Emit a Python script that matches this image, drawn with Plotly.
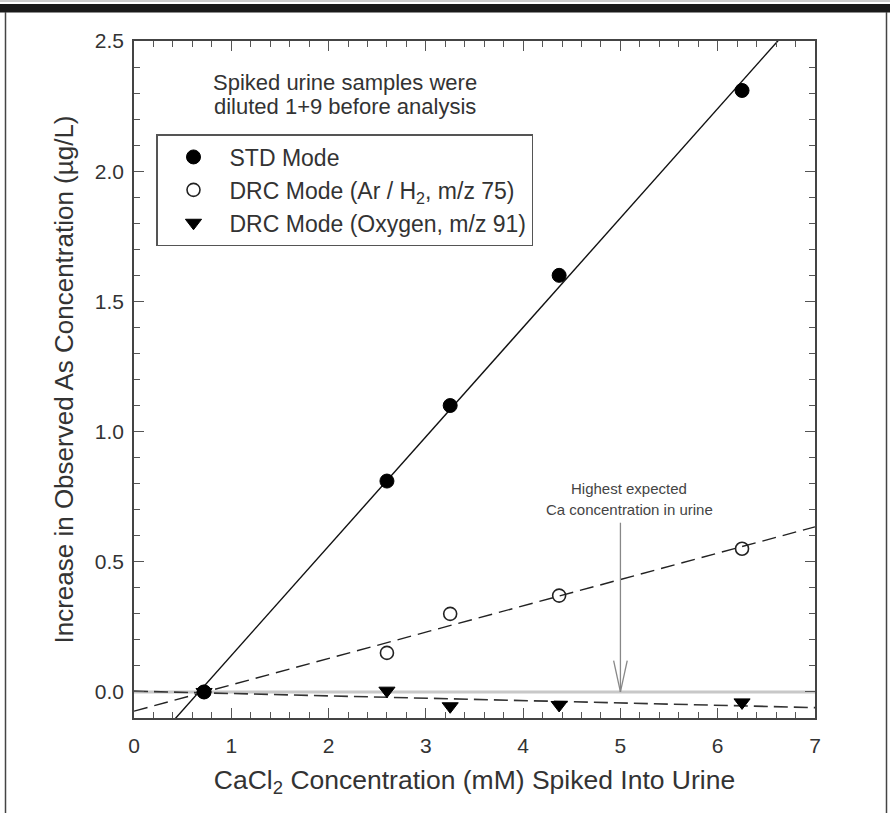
import numpy as np
import plotly.graph_objects as go

# CaCl2 spike levels (mM) and observed increase in As (ug/L)
cacl2_mM = [0.72, 2.60, 3.25, 4.37, 6.25]
std_mode = [0.00, 0.81, 1.10, 1.60, 2.31]
drc_arh2 = [0.00, 0.15, 0.30, 0.37, 0.55]
drc_oxygen = [0.00, 0.005, -0.055, -0.05, -0.04]

series_names = [
    "STD Mode",
    "DRC Mode (Ar / H<sub>2</sub>, m/z 75)",
    "DRC Mode (Oxygen, m/z 91)",
]

note_lines = ["Spiked urine samples were", "diluted 1+9 before analysis"]
ca_lines = ["Highest expected", "Ca concentration in urine"]

HIGHEST_CA_mM = 5.0
X_RANGE = [0, 7]
Y_RANGE = [-0.1, 2.5]

W, H = 890, 813
ML, MR, MT, MB = 134, 75, 41, 95
PW, PH = W - ML - MR, H - MT - MB

FONT = "Liberation Sans, Arial, sans-serif"
INK = "#2a2a2a"


def px_x(px):
    return (px - ML) / PW


def px_y(py):
    return (H - MB - py) / PH


fig = go.Figure()

# least-squares fit line for each series
x_fit = np.array(X_RANGE, dtype=float)
fit_styles = [
    dict(color="#111111", width=1.4, dash="solid"),
    dict(color="#222222", width=1.4, dash="14px,7px"),
    dict(color="#333333", width=1.6, dash="14px,6px"),
]
for yvals, style in zip([std_mode, drc_arh2, drc_oxygen], fit_styles):
    slope, intercept = np.polyfit(cacl2_mM, yvals, 1)
    fig.add_trace(go.Scatter(
        x=x_fit, y=slope * x_fit + intercept, mode="lines",
        line=style, showlegend=False, hoverinfo="skip",
    ))

marker_styles = [
    dict(symbol="circle", size=14, color="#000000",
         line=dict(color="#000000", width=1)),
    dict(symbol="circle-open", size=13, color="#222222",
         line=dict(color="#222222", width=1.6)),
    dict(symbol="triangle-down", size=14, color="#000000",
         line=dict(color="#000000", width=1)),
]
# open circles first so the filled STD points sit on top
for idx in [1, 2, 0]:
    yvals = [std_mode, drc_arh2, drc_oxygen][idx]
    fig.add_trace(go.Scatter(
        x=cacl2_mM, y=yvals, mode="markers", name=series_names[idx],
        marker=marker_styles[idx], legendrank=idx + 1,
    ))

shapes = [
    # zero reference line
    dict(type="line", xref="x", yref="y", x0=X_RANGE[0], x1=X_RANGE[1],
         y0=0, y1=0, line=dict(color="#c8c8c8", width=3), layer="below"),
    # arrow to the highest expected Ca level
    dict(type="line", xref="x", yref="y", x0=HIGHEST_CA_mM, x1=HIGHEST_CA_mM,
         y0=0.65, y1=0.0, line=dict(color="#888888", width=1.3)),
    dict(type="line", xref="x", yref="y", x0=HIGHEST_CA_mM - 0.07,
         x1=HIGHEST_CA_mM, y0=0.12, y1=0.0,
         line=dict(color="#888888", width=1.3)),
    dict(type="line", xref="x", yref="y", x0=HIGHEST_CA_mM + 0.07,
         x1=HIGHEST_CA_mM, y0=0.12, y1=0.0,
         line=dict(color="#888888", width=1.3)),
    # page frame: heavy top rule and side rules
    dict(type="line", xref="paper", yref="paper", x0=px_x(0), x1=px_x(W),
         y0=px_y(1), y1=px_y(1), line=dict(color="#9a9a9a", width=1)),
    dict(type="rect", xref="paper", yref="paper", x0=px_x(0), x1=px_x(W),
         y0=px_y(4), y1=px_y(12.5), fillcolor="#1a1a1a", line=dict(width=0)),
    dict(type="line", xref="paper", yref="paper", x0=px_x(5.5), x1=px_x(5.5),
         y0=px_y(12), y1=px_y(H), line=dict(color="#444444", width=1.5)),
    dict(type="line", xref="paper", yref="paper", x0=px_x(886.5),
         x1=px_x(886.5), y0=px_y(12), y1=px_y(H),
         line=dict(color="#444444", width=1.5)),
]

annotations = []
for line, yv in zip(note_lines, [2.34, 2.25]):
    annotations.append(dict(
        text=line, xref="x", yref="y", x=2.17, y=yv, showarrow=False,
        font=dict(family=FONT, size=22, color="#333333"), align="center"))
for line, yv in zip(ca_lines, [0.78, 0.70]):
    annotations.append(dict(
        text=line, xref="x", yref="y", x=HIGHEST_CA_mM + 0.09, y=yv,
        showarrow=False, font=dict(family=FONT, size=15, color="#444444"),
        align="center"))

axis_common = dict(
    showgrid=False, zeroline=False, showline=True, linecolor="#444444",
    linewidth=1.5, mirror="allticks", ticks="inside", ticklen=10,
    tickwidth=1.2, tickcolor="#555555",
    tickfont=dict(family=FONT, size=21, color="#333333"),
)

fig.update_layout(
    width=W, height=H,
    margin=dict(l=ML, r=MR, t=MT, b=MB),
    paper_bgcolor="white", plot_bgcolor="white",
    font=dict(family=FONT, color=INK),
    xaxis=dict(
        range=X_RANGE, dtick=1, tick0=0, ticklabelstandoff=8,
        minor=dict(dtick=0.2, ticks="inside", ticklen=6, tickwidth=1,
                   tickcolor="#555555"),
        title=dict(text="CaCl<sub>2</sub> Concentration (mM) Spiked Into Urine",
                   font=dict(family=FONT, size=26.5, color="#333333"),
                   standoff=14),
        **axis_common,
    ),
    yaxis=dict(
        range=Y_RANGE, dtick=0.5, tick0=0, tickformat=".1f",
        ticklabelstandoff=4,
        minor=dict(dtick=0.1, ticks="inside", ticklen=6, tickwidth=1,
                   tickcolor="#555555"),
        title=dict(text="Increase in Observed As Concentration (\u00b5g/L)",
                   font=dict(family=FONT, size=26, color="#333333"),
                   standoff=14),
        **axis_common,
    ),
    legend=dict(
        x=px_x(156), y=px_y(134), xanchor="left", yanchor="top",
        bgcolor="white", bordercolor="#555555", borderwidth=1.5,
        font=dict(family=FONT, size=23, color="#333333"),
        itemwidth=62, tracegroupgap=0,
    ),
    shapes=shapes,
    annotations=annotations,
)

fig.write_html("out.html")
